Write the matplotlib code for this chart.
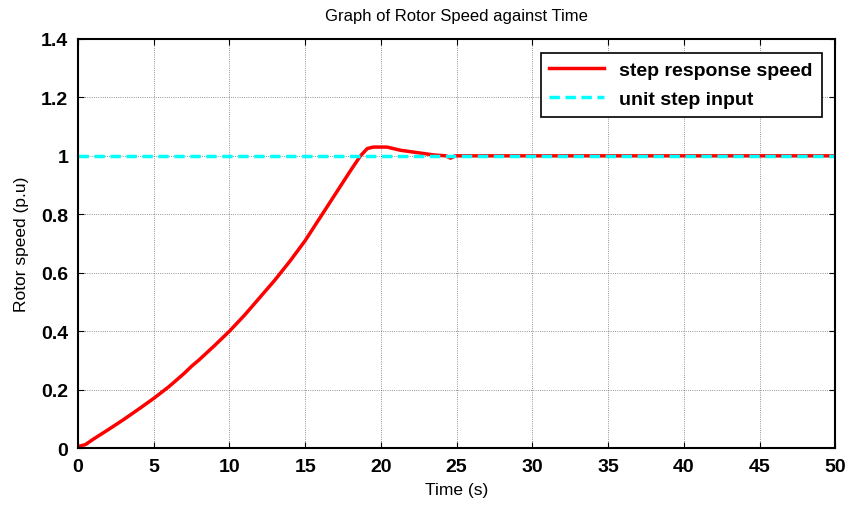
import matplotlib.pyplot as plt

plt.rcParams['font.family'] = ['Liberation Sans', 'DejaVu Sans']

# rotor speed response
t = [0, 0.5, 1, 2, 2.5, 3, 4, 5, 6, 7, 7.5, 8, 9, 10, 11, 12, 12.5, 13, 14, 15,
     16, 17, 18, 18.65, 19.1, 19.5, 20.4, 21.3, 22.4, 23.5, 24.3, 24.6, 24.9, 50]
speed = [0.005, 0.012, 0.03, 0.063, 0.08, 0.097, 0.133, 0.17, 0.21, 0.255, 0.28, 0.302,
         0.35, 0.40, 0.455, 0.515, 0.545, 0.575, 0.64, 0.71,
         0.79, 0.87, 0.95, 1.0, 1.025, 1.03, 1.03, 1.019, 1.011, 1.003, 1.0, 0.992, 1.0, 1.0]

step_t = [0, 50]
step_val = [1, 1]

fig = plt.figure(figsize=(8.48, 5.06), dpi=100)
ax = fig.add_axes([0.092, 0.1126, 0.893, 0.8084])

ax.plot(t, speed, color='red', lw=2.5, label='step response speed')
ax.plot(step_t, step_val, color='cyan', lw=2.5, ls=(0, (3, 1.6)), label='unit step input')

ax.set_xlim(0, 50)
ax.set_ylim(0, 1.4)
ax.set_xticks(range(0, 51, 5))
ax.set_yticks([0, 0.2, 0.4, 0.6, 0.8, 1, 1.2, 1.4])
ax.set_yticklabels(['0', '0.2', '0.4', '0.6', '0.8', '1', '1.2', '1.4'])
ax.grid(True, color='#333333', ls=':', lw=0.6, alpha=0.7)
ax.tick_params(direction='in', top=True, right=True, length=4, labelsize=14, pad=7)
for lab in ax.get_xticklabels() + ax.get_yticklabels():
    lab.set_fontweight('bold')
for s in ax.spines.values():
    s.set_linewidth(1.5)

ax.set_xlabel('Time (s)', fontsize=12.5, labelpad=5)
ax.set_ylabel('Rotor speed (p.u)', fontsize=12.5, labelpad=9)
ax.set_title('Graph of Rotor Speed against Time', fontsize=12, pad=14)

leg = ax.legend(loc='upper right', prop={'weight': 'bold', 'size': 14}, fancybox=False,
                framealpha=1, edgecolor='black', borderaxespad=0.7, handlelength=2.8,
                borderpad=0.45, labelspacing=0.6)
leg.get_frame().set_linewidth(1.2)

fig.savefig('out.png', dpi=100)
